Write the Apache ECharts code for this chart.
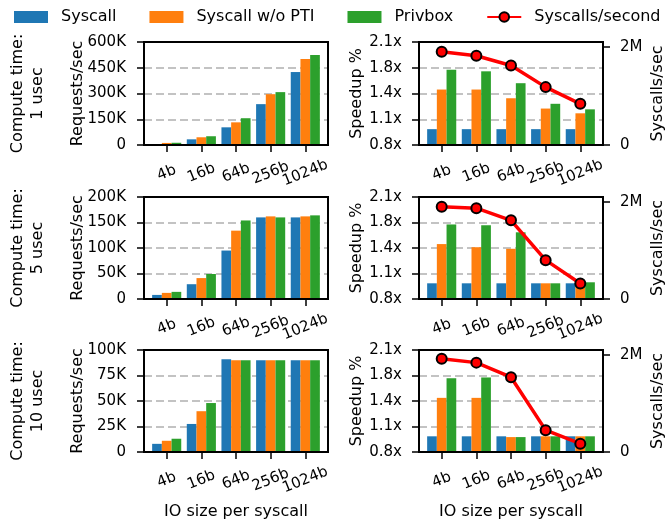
<!DOCTYPE html>
<html>
<head>
<meta charset="utf-8">
<script src="https://cdn.jsdelivr.net/npm/echarts@6/dist/echarts.min.js"></script>
<style>html,body{margin:0;padding:0;background:#fff}#c{width:668px;height:523px}</style>
</head>
<body>
<div id="c"></div>
<script>
// ---------- data ----------
const categories = ['4b', '16b', '64b', '256b', '1024b'];
const seriesNames = ['Syscall', 'Syscall w/o PTI', 'Privbox', 'Syscalls/second'];
const computeLabels = ['Compute time:\n1 usec', 'Compute time:\n5 usec', 'Compute time:\n10 usec'];

const req1_syscall = [4000, 33000, 103000, 238000, 425000];
const req1_nopti   = [12000, 45000, 132000, 296000, 501000];
const req1_privbox = [13000, 51000, 156000, 308000, 524000];
const req5_syscall = [8000, 29000, 95000, 160000, 160000];
const req5_nopti   = [12000, 41000, 134000, 162000, 162000];
const req5_privbox = [14000, 49000, 154000, 160000, 164000];
const req10_syscall = [8000, 27500, 91000, 90000, 90000];
const req10_nopti   = [11000, 40000, 90000, 90000, 90000];
const req10_privbox = [13000, 48000, 90000, 90000, 90000];

const speed1_syscall = [1.0, 1.0, 1.0, 1.0, 1.0];
const speed1_nopti   = [1.50, 1.50, 1.39, 1.26, 1.20];
const speed1_privbox = [1.75, 1.73, 1.58, 1.32, 1.25];
const speed5_syscall = [1.0, 1.0, 1.0, 1.0, 1.0];
const speed5_nopti   = [1.50, 1.46, 1.44, 1.0, 1.0];
const speed5_privbox = [1.75, 1.74, 1.65, 1.0, 1.013];
const speed10_syscall = [1.0, 1.0, 1.0, 1.0, 1.0];
const speed10_nopti   = [1.49, 1.49, 0.99, 1.0, 1.0];
const speed10_privbox = [1.74, 1.75, 0.99, 1.0, 1.0];

const sys1  = [1900000, 1820000, 1620000, 1180000, 840000];
const sys5  = [1900000, 1870000, 1620000, 800000, 320000];
const sys10 = [1920000, 1840000, 1540000, 450000, 170000];

const reqMax = [600000, 200000, 100000];
const reqInterval = [150000, 50000, 25000];
const speedTicks = [0.8, 1.125, 1.45, 1.775, 2.1];
const speedTickLabels = ['0.8x', '1.1x', '1.4x', '1.8x', '2.1x'];
const sysTicks = [0, 2000000];
const sysTickLabels = ['0', '2M'];

// ---------- styling ----------
const FONT = 'DejaVu Sans';
const colors = ['#1f77b4', '#ff7f0e', '#2ca02c'];
const rows = [{top: 42, height: 103}, {top: 197, height: 102}, {top: 350, height: 102}];
const leftX = 144, rightX = 419, W = 184;
const X_MIN = -0.655, X_MAX = 4.655;

const reqData = [
  [req1_syscall, req1_nopti, req1_privbox],
  [req5_syscall, req5_nopti, req5_privbox],
  [req10_syscall, req10_nopti, req10_privbox]
];
const speedData = [
  [speed1_syscall, speed1_nopti, speed1_privbox],
  [speed5_syscall, speed5_nopti, speed5_privbox],
  [speed10_syscall, speed10_nopti, speed10_privbox]
];
const sysData = [sys1, sys5, sys10];

const grids = [], xAxes = [], yAxes = [], series = [], graphics = [];
const tickStyle = {show: true, length: 7, lineStyle: {color: '#000', width: 1.5}};
const labelStyle = {color: '#000', fontFamily: FONT, fontSize: 15};
const gridLine = {show: true, lineStyle: {color: '#b0b0b0', width: 1.6, type: [8, 4]}};
const noLine = {show: false, onZero: false};

// category positions plus two blank guard entries at the axis ends
const xPositions = [X_MIN].concat(categories.map((c, i) => i), [X_MAX]);

function xAxisFor(gi) {
  return {
    type: 'value', gridIndex: gi, min: X_MIN, max: X_MAX,
    axisLine: noLine, splitLine: {show: false},
    axisTick: Object.assign({customValues: xPositions}, tickStyle),
    axisLabel: Object.assign({}, labelStyle, {
      customValues: xPositions, rotate: 22, align: 'center', verticalAlign: 'middle', margin: 28,
      showMinLabel: false, showMaxLabel: false, hideOverlap: false,
      formatter: v => {
        const i = Math.round(v);
        return (Math.abs(v - i) < 1e-6 && i >= 0 && i < categories.length) ? categories[i] : '';
      }
    })
  };
}

rows.forEach((r, ri) => {
  const gL = grids.length;
  grids.push({left: leftX, top: r.top, width: W, height: r.height, show: true, z: 10,
    borderColor: '#000', borderWidth: 2, backgroundColor: 'transparent', containLabel: false});
  const gR = grids.length;
  grids.push({left: rightX, top: r.top, width: W, height: r.height, show: true, z: 10,
    borderColor: '#000', borderWidth: 2, backgroundColor: 'transparent', containLabel: false});
  xAxes.push(xAxisFor(gL));
  xAxes.push(xAxisFor(gR));

  const yL = yAxes.length;
  yAxes.push({
    type: 'value', gridIndex: gL, position: 'left', min: 0, max: reqMax[ri], interval: reqInterval[ri],
    axisLine: noLine, axisTick: tickStyle, splitLine: gridLine,
    axisLabel: Object.assign({}, labelStyle, {margin: 18, showMinLabel: true, showMaxLabel: true,
      formatter: v => v === 0 ? '0' : (v / 1000) + 'K'})
  });
  const yS = yAxes.length;
  yAxes.push({
    type: 'value', gridIndex: gR, position: 'left', min: 0.8, max: 2.1,
    axisLine: noLine,
    axisTick: Object.assign({customValues: speedTicks}, tickStyle),
    splitLine: gridLine,
    axisLabel: Object.assign({}, labelStyle, {customValues: speedTicks, margin: 17,
      showMinLabel: true, showMaxLabel: true,
      formatter: v => {
        let best = 0;
        speedTicks.forEach((t, i) => { if (Math.abs(t - v) < Math.abs(speedTicks[best] - v)) best = i; });
        return speedTickLabels[best];
      }})
  });
  const yR = yAxes.length;
  yAxes.push({
    type: 'value', gridIndex: gR, position: 'right', min: 0, max: 2100000,
    axisLine: noLine,
    axisTick: Object.assign({customValues: sysTicks}, tickStyle),
    splitLine: {show: false},
    axisLabel: Object.assign({}, labelStyle, {customValues: sysTicks, margin: 17,
      showMinLabel: true, showMaxLabel: true,
      formatter: v => sysTickLabels[sysTicks.indexOf(v)]})
  });

  for (let k = 0; k < 3; k++) {
    series.push({
      name: seriesNames[k], type: 'bar', xAxisIndex: gL, yAxisIndex: yL,
      barWidth: '28%', barGap: '0%', itemStyle: {color: colors[k]},
      data: categories.map((c, i) => [i, reqData[ri][k][i]])
    });
  }
  for (let k = 0; k < 3; k++) {
    series.push({
      name: seriesNames[k], type: 'bar', xAxisIndex: gR, yAxisIndex: yS,
      barWidth: '28%', barGap: '0%', clip: true, itemStyle: {color: colors[k]},
      data: categories.map((c, i) => [i, speedData[ri][k][i]])
    });
  }
  series.push({
    name: seriesNames[3], type: 'line', xAxisIndex: gR, yAxisIndex: yR, z: 5,
    symbol: 'circle', symbolSize: 10,
    itemStyle: {color: '#ff0000', borderColor: '#000', borderWidth: 2},
    lineStyle: {color: '#ff0000', width: 3.5},
    data: categories.map((c, i) => [i, sysData[ri][i]])
  });

  const cy = r.top + r.height / 2;
  const tStyle = {fill: '#000', font: '16px "' + FONT + '"', align: 'center', verticalAlign: 'middle'};
  graphics.push({type: 'text', x: 28, y: cy, rotation: Math.PI / 2,
    style: Object.assign({}, tStyle, {text: computeLabels[ri], lineHeight: 20})});
  graphics.push({type: 'text', x: 78, y: cy, rotation: Math.PI / 2,
    style: Object.assign({}, tStyle, {text: 'Requests/sec'})});
  graphics.push({type: 'text', x: 357, y: cy, rotation: Math.PI / 2,
    style: Object.assign({}, tStyle, {text: 'Speedup %'})});
  graphics.push({type: 'text', x: 658, y: cy, rotation: Math.PI / 2,
    style: Object.assign({}, tStyle, {text: 'Syscalls/sec'})});
});

const bottomStyle = {fill: '#000', font: '16px "' + FONT + '"', align: 'center', verticalAlign: 'middle'};
graphics.push({type: 'text', x: leftX + W / 2, y: 512, style: Object.assign({}, bottomStyle, {text: 'IO size per syscall'})});
graphics.push({type: 'text', x: rightX + W / 2, y: 512, style: Object.assign({}, bottomStyle, {text: 'IO size per syscall'})});

const chart = echarts.init(document.getElementById('c'), null, {renderer: 'canvas'});
chart.setOption({
  animation: false,
  textStyle: {fontFamily: FONT},
  legend: {
    left: 14, top: 9, width: 668, padding: 0, itemWidth: 34, itemHeight: 12, itemGap: 33,
    textStyle: {color: '#000', fontFamily: FONT, fontSize: 16, padding: [0, 0, 0, 8]},
    data: [
      {name: seriesNames[0], icon: 'rect'},
      {name: seriesNames[1], icon: 'rect'},
      {name: seriesNames[2], icon: 'rect'},
      {name: seriesNames[3]}
    ]
  },
  grid: grids, xAxis: xAxes, yAxis: yAxes, series: series, graphic: graphics
});
</script>
</body>
</html>
